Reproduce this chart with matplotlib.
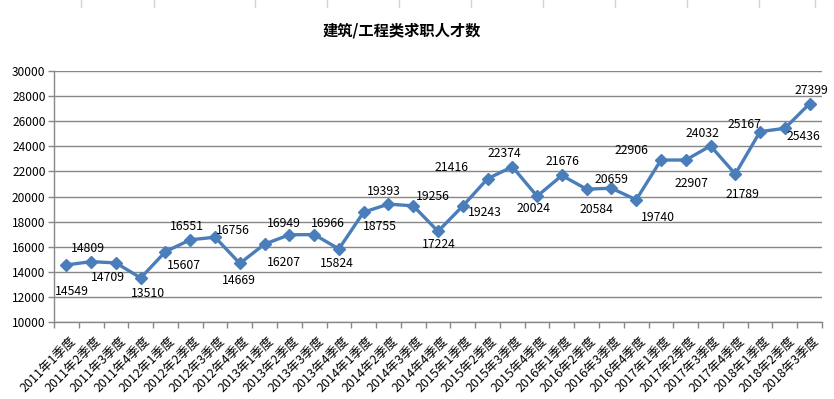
import matplotlib
matplotlib.use("Agg")
import matplotlib.pyplot as plt
import matplotlib.transforms as mtransforms
from matplotlib.lines import Line2D
import numpy as np

plt.rcParams['font.family'] = ['Noto Sans CJK SC', 'DejaVu Sans']

# chart data
title = "建筑/工程类求职人才数"
years = [2011] * 4 + [2012] * 4 + [2013] * 4 + [2014] * 4 + [2015] * 4 + \
        [2016] * 4 + [2017] * 4 + [2018] * 3
quarters = [1, 2, 3, 4] * 7 + [1, 2, 3]
quarter_labels = [f"{y}年{q}季度" for y, q in zip(years, quarters)]
talent_counts = [14549, 14809, 14709, 13510, 15607, 16551, 16756, 14669,
                 16207, 16949, 16966, 15824, 18755, 19393, 19256, 17224,
                 19243, 21416, 22374, 20024, 21676, 20584, 20659, 19740,
                 22906, 22907, 24032, 21789, 25167, 25436, 27399]
y_ticks = list(range(10000, 30001, 2000))

# where each value label sits relative to its marker (pixels, +y is up)
label_offsets = [(5, -27), (-3, 13), (-8, -15), (7, -16), (18, -14), (-3, 13),
                 (18, 7), (-1, -17), (19, -18), (-6, 11), (14, 11), (-2, -15),
                 (16, -14), (-5, 13), (20, 9), (1, -13), (22, -6), (-36, 11),
                 (-8, 13), (-4, -12), (1, 14), (10, -20), (0, 9), (22, -18),
                 (-29, 10), (6, -23), (-8, 12), (7, -20), (-16, 7), (19, -8),
                 (2, 13)]

line_color = '#4A7EBB'
grid_color = '#878787'

fig = plt.figure(figsize=(8.34, 3.99), dpi=100)
ax = fig.add_axes([54 / 834, 1 - 322 / 399, 768 / 834, 251 / 399])

x = np.arange(len(talent_counts))
ax.plot(x, talent_counts, color=line_color, linewidth=2.4, marker='D',
        markersize=6, markerfacecolor=line_color, markeredgecolor=line_color,
        zorder=3)

for xi, val, (dx, dy) in zip(x, talent_counts, label_offsets):
    ax.annotate(str(val), (xi, val), xytext=(dx * 0.72, dy * 0.72),
                textcoords='offset points', ha='center', va='center',
                fontsize=8.8, color='black', zorder=4)

ax.set_xlim(-0.5, len(talent_counts) - 0.5)
ax.set_ylim(10000, 30000)
ax.set_yticks(y_ticks)
ax.set_yticklabels([str(t) for t in y_ticks], fontsize=8.6)
ax.yaxis.grid(True, color=grid_color, linewidth=1)
ax.set_axisbelow(True)

# category labels, rotated, hanging below the axis
ax.set_xticks(x)
ax.set_xticklabels([])
ax.tick_params(axis='x', which='major', length=0)
shift = mtransforms.ScaledTranslation(8 / 100, -17 / 100, fig.dpi_scale_trans)
for xi, lbl in zip(x, quarter_labels):
    ax.text(xi, 0, lbl, transform=ax.get_xaxis_transform() + shift,
            rotation=45, rotation_mode='anchor', ha='right', va='center',
            fontsize=9, clip_on=False)

ax.set_xticks(np.arange(-0.5, len(talent_counts)), minor=True)
ax.tick_params(axis='x', which='minor', length=4, color=grid_color, width=1)
ax.tick_params(axis='y', length=4, color=grid_color, width=1, pad=2)

for side in ['top', 'right']:
    ax.spines[side].set_visible(False)
for side in ['left', 'bottom']:
    ax.spines[side].set_color(grid_color)
    ax.spines[side].set_linewidth(1)

fig.text(402 / 834, 1 - 31 / 399, title, ha='center', va='center',
         fontsize=11, fontweight='bold')

# spreadsheet cell borders peeking in at the top edge
for px in [81, 154, 255, 327, 399, 471, 543, 615, 687, 759, 815]:
    fig.add_artist(Line2D([px / 834, px / 834], [1, 1 - 7 / 399],
                          color='#d4d4d4', linewidth=1))

fig.savefig('out.png', dpi=100)
